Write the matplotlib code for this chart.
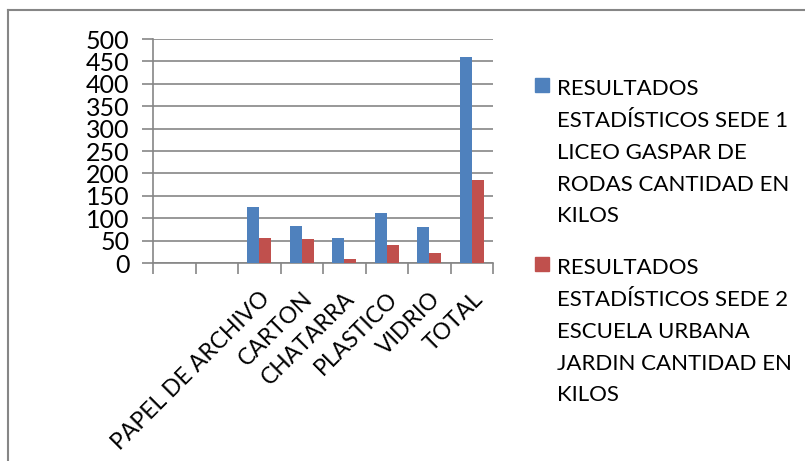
import matplotlib.pyplot as plt
import numpy as np
from matplotlib.patches import Rectangle
from matplotlib.lines import Line2D

# data (kg)
categories = ["", "", "PAPEL DE ARCHIVO", "CARTON", "CHATARRA", "PLASTICO", "VIDRIO", "TOTAL"]
sede_1 = [np.nan, np.nan, 124, 82, 55, 111, 80, 459]
sede_2 = [np.nan, np.nan, 55, 53, 10, 40, 23, 185]
labels = [
    "RESULTADOS\nESTADÍSTICOS SEDE 1\nLICEO GASPAR DE\nRODAS CANTIDAD EN\nKILOS",
    "RESULTADOS\nESTADÍSTICOS SEDE 2\nESCUELA URBANA\nJARDIN CANTIDAD EN\nKILOS",
]
colors = ["#4F81BD", "#C0504D"]
grid_color = "#868686"

plt.rcParams["font.family"] = ["Lato", "DejaVu Sans"]

W, H = 805, 461
fig = plt.figure(figsize=(W / 100, H / 100), dpi=100)
ax = fig.add_axes([153 / W, (H - 263) / H, (493 - 153) / W, (263 - 39) / H])

x = np.arange(len(categories))
width = 0.28
ax.bar(x - width / 2, sede_1, width, color=colors[0], zorder=3)
ax.bar(x + width / 2, sede_2, width, color=colors[1], zorder=3)

ax.set_xlim(-0.5, len(categories) - 0.5)
ax.set_ylim(0, 500)
ax.set_yticks(np.arange(0, 501, 50))
ax.yaxis.grid(True, color=grid_color, linewidth=1.2, zorder=0)
ax.set_axisbelow(True)

# category labels between boundary ticks
ax.set_xticks(x)
ax.set_xticklabels(categories, rotation=45, ha="right", va="top", rotation_mode="anchor", fontsize=16.5)
ax.tick_params(axis="x", length=0, pad=18)
ax.set_xticks(np.arange(len(categories) + 1) - 0.5, minor=True)
ax.tick_params(axis="x", which="minor", length=8, width=1.2, color=grid_color)
ax.tick_params(axis="y", length=8, width=1.2, color=grid_color, labelsize=18, pad=9)

for side in ["top", "right"]:
    ax.spines[side].set_visible(False)
for side in ["left", "bottom"]:
    ax.spines[side].set_color(grid_color)
    ax.spines[side].set_linewidth(1.2)

# legend, drawn by hand so the square sits on the first line
text_tops = [79, 258]
square_tops = [78, 257]
for label, color, ttop, stop in zip(labels, colors, text_tops, square_tops):
    fig.text(557 / W, 1 - ttop / H, label, fontsize=16, va="top", ha="left", linespacing=1.74)
    fig.patches.append(Rectangle((535 / W, 1 - (stop + 14) / H), 14 / W, 14 / H,
                                 transform=fig.transFigure, color=color))

# chart border (only top and left visible in the original)
fig.add_artist(Line2D([8 / W, 1], [1 - 10 / H, 1 - 10 / H], transform=fig.transFigure, color=grid_color, lw=1.5))
fig.add_artist(Line2D([8 / W, 8 / W], [0, 1 - 10 / H], transform=fig.transFigure, color=grid_color, lw=1.5))

fig.savefig("out.png", dpi=100)
